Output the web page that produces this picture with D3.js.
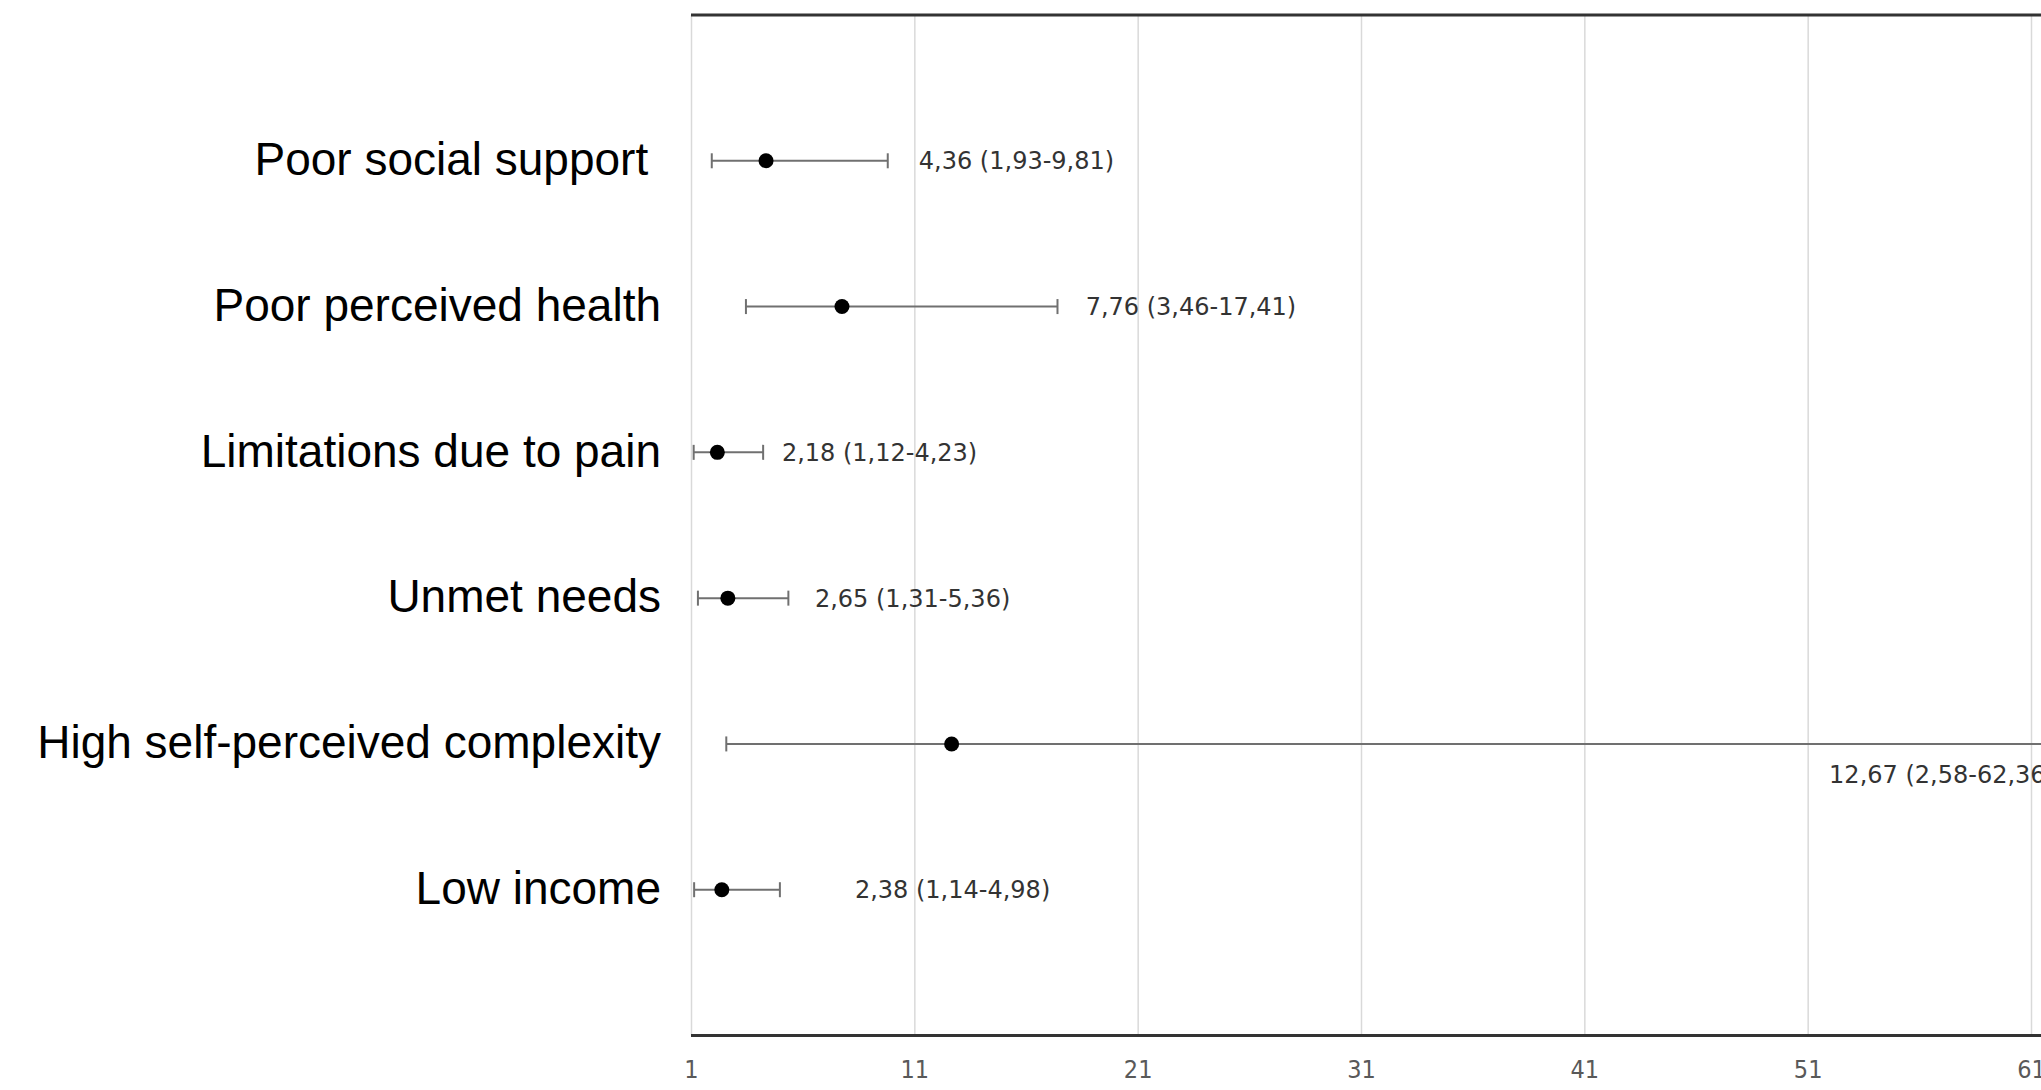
<!DOCTYPE html>
<html>
<head>
<meta charset="utf-8">
<script src="https://cdn.jsdelivr.net/npm/d3@7"></script>
<style>
  html, body { margin: 0; padding: 0; background: #fff; overflow: hidden; }
  .cat-label { font-family: "Liberation Sans", Arial, sans-serif; font-size: 46px; fill: #000; white-space: pre; }
  .value-label { font-family: "DejaVu Sans", sans-serif; font-size: 24px; fill: #333; }
  .x-axis text { font-family: "Liberation Sans Narrow", "DejaVu Sans Condensed", sans-serif; font-size: 25px; fill: #595959; }
  .grid line { stroke: #d9d9d9; stroke-width: 1.5; }
  .grid .domain { display: none; }
</style>
</head>
<body>
<div id="chart"></div>
<script>
// Data (odds ratios with 95% CI)
const categories = [
  "Poor social support ",
  "Poor perceived health",
  "Limitations due to pain",
  "Unmet needs",
  "High self-perceived complexity",
  "Low income"
];
const oddsRatio = [4.36, 7.76, 2.18, 2.65, 12.67, 2.38];
const ciLow = [1.93, 3.46, 1.12, 1.31, 2.58, 1.14];
const ciHigh = [9.81, 17.41, 4.23, 5.36, 62.36, 4.98];
const rowLevel = [6, 5, 4, 3, 2, 1];
const labels = [
  "4,36 (1,93-9,81)",
  "7,76 (3,46-17,41)",
  "2,18 (1,12-4,23)",
  "2,65 (1,31-5,36)",
  "12,67 (2,58-62,36)",
  "2,38 (1,14-4,98)"
];
const xTicks = [1, 11, 21, 31, 41, 51, 61, 71];

// label placement (x in data units, dy in px)
const labelAt = [11.2, 18.67, 5.07, 6.55, 51.96, 8.34];
const labelDy = [0, 0, 0, 0, 30, 0];

// Layout
const W = 2041, H = 1090;
const plotLeft = 691, plotTop = 15, plotBottom = 1035.5;

const svg = d3.select("#chart")
  .append("svg")
  .attr("width", W)
  .attr("height", H);

const x = d3.scaleLinear().domain([1, 61]).range([plotLeft, 2031]);
const y = d3.scaleLinear().domain([0, 7]).range([plotBottom, plotTop]);

// gridlines
svg.append("g")
  .attr("class", "grid")
  .attr("transform", `translate(0,${plotBottom})`)
  .call(d3.axisBottom(x).tickValues(xTicks).tickSize(-(plotBottom - plotTop)).tickFormat(""));

// top and bottom axis lines
[plotTop, plotBottom].forEach((yy) => {
  svg.append("line")
    .attr("x1", plotLeft).attr("x2", W)
    .attr("y1", yy).attr("y2", yy)
    .attr("stroke", "#333")
    .attr("stroke-width", 3);
});

// tick labels
const xAxis = svg.append("g")
  .attr("class", "x-axis")
  .attr("transform", `translate(0,${plotBottom})`)
  .call(d3.axisBottom(x).tickValues(xTicks).tickSize(0).tickPadding(25));
xAxis.select(".domain").remove();

const rows = categories.map((c, i) => ({
  cat: c, or: oddsRatio[i], lo: ciLow[i], hi: ciHigh[i],
  level: rowLevel[i], label: labels[i], lx: labelAt[i], ldy: labelDy[i]
}));

// category labels
svg.selectAll(".cat-label")
  .data(rows)
  .enter()
  .append("text")
  .attr("class", "cat-label")
  .attr("x", 661)
  .attr("y", (d) => y(d.level))
  .attr("dy", "0.31em")
  .attr("text-anchor", "end")
  .text((d) => d.cat);

// error bars
const bars = svg.selectAll(".ci")
  .data(rows)
  .enter()
  .append("g")
  .attr("class", "ci")
  .attr("stroke", "#707070")
  .attr("stroke-width", 2);

bars.append("line")
  .attr("x1", (d) => x(d.lo)).attr("x2", (d) => x(d.hi))
  .attr("y1", (d) => y(d.level)).attr("y2", (d) => y(d.level));

bars.append("line")
  .attr("x1", (d) => x(d.lo)).attr("x2", (d) => x(d.lo))
  .attr("y1", (d) => y(d.level) - 7.5).attr("y2", (d) => y(d.level) + 7.5);

bars.append("line")
  .attr("x1", (d) => x(d.hi)).attr("x2", (d) => x(d.hi))
  .attr("y1", (d) => y(d.level) - 7.5).attr("y2", (d) => y(d.level) + 7.5);

// points
svg.selectAll(".pt")
  .data(rows)
  .enter()
  .append("circle")
  .attr("class", "pt")
  .attr("cx", (d) => x(d.or))
  .attr("cy", (d) => y(d.level))
  .attr("r", 7.5)
  .attr("fill", "#000");

// value labels
svg.selectAll(".value-label")
  .data(rows)
  .enter()
  .append("text")
  .attr("class", "value-label")
  .attr("x", (d) => x(d.lx))
  .attr("y", (d) => y(d.level) + d.ldy)
  .attr("dy", "0.36em")
  .text((d) => d.label);
</script>
</body>
</html>
